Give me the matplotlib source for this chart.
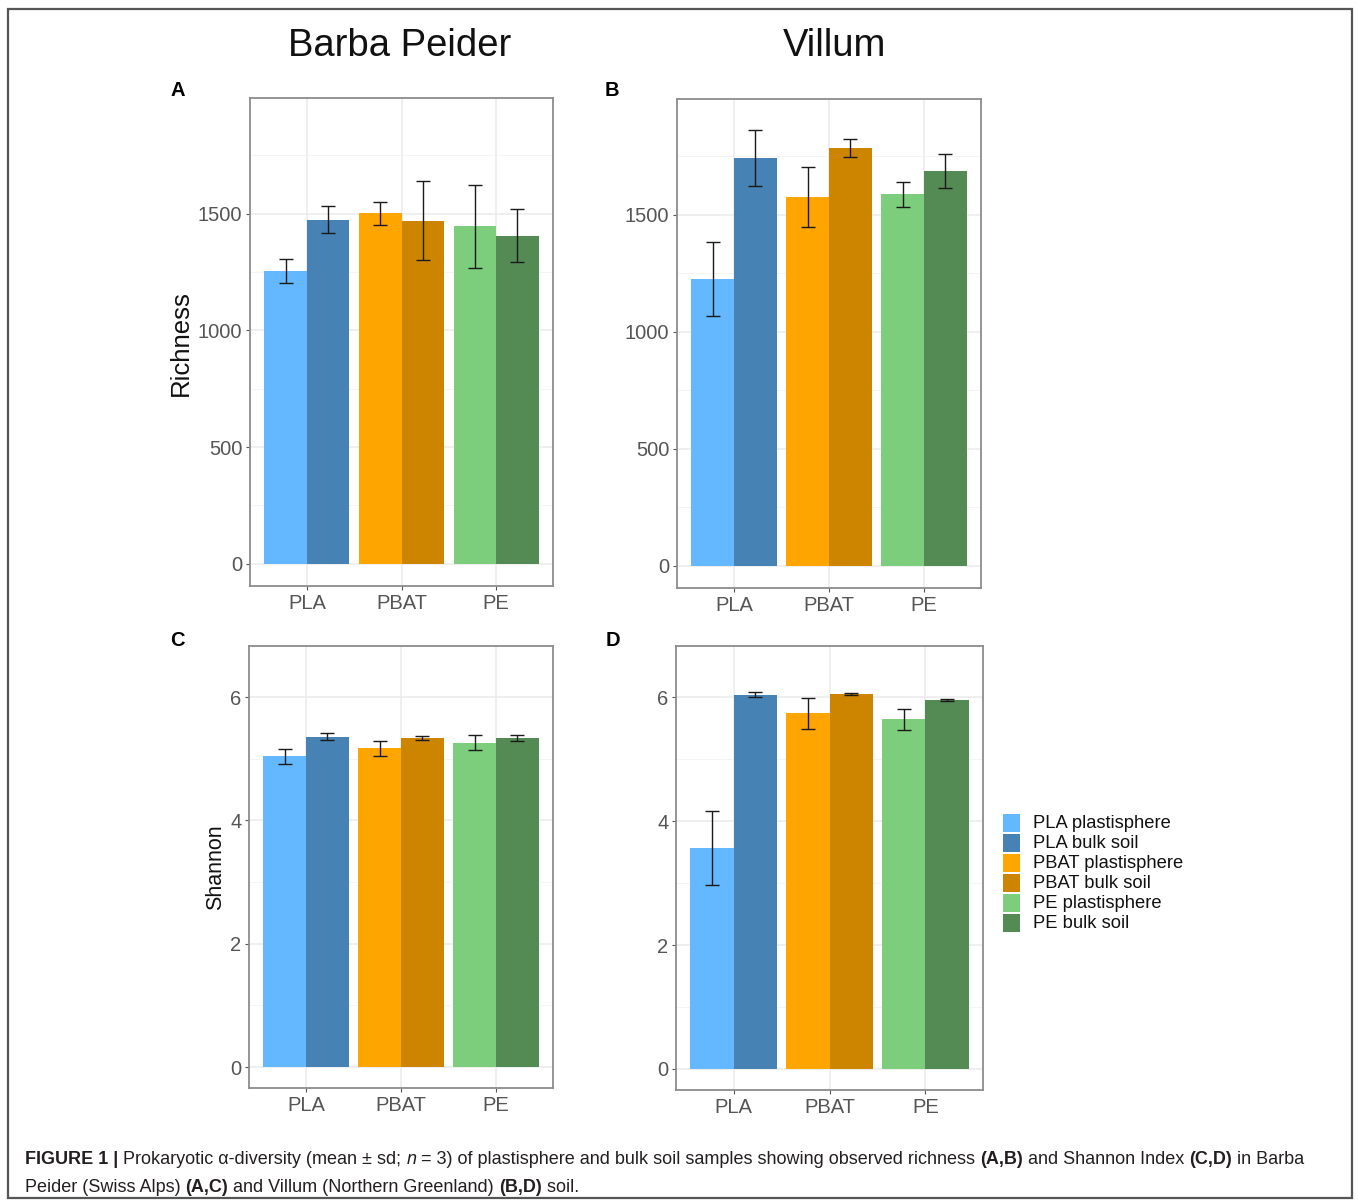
import matplotlib
matplotlib.use("Agg")
import matplotlib.pyplot as plt
from matplotlib.patches import Rectangle
import numpy as np

plt.rcParams['font.family'] = ['Liberation Sans', 'DejaVu Sans']

# datos
plastics = ["PLA", "PBAT", "PE"]
groups = ["PLA plastisphere", "PLA bulk soil", "PBAT plastisphere",
          "PBAT bulk soil", "PE plastisphere", "PE bulk soil"]
colors = ["#63B8FF", "#4682B4", "#FFA500", "#CD8500", "#7CCD7C", "#548B54"]

richness_bp_mean = [1255, 1474, 1501, 1470, 1446, 1406]
richness_bp_sd = [52, 58, 49, 170, 177, 112]
richness_vi_mean = [1226, 1742, 1576, 1785, 1587, 1687]
richness_vi_sd = [158, 120, 127, 40, 54, 72]
shannon_bp_mean = [5.04, 5.36, 5.17, 5.34, 5.26, 5.34]
shannon_bp_sd = [0.12, 0.06, 0.12, 0.03, 0.12, 0.05]
shannon_vi_mean = [3.57, 6.04, 5.74, 6.06, 5.65, 5.96]
shannon_vi_sd = [0.60, 0.04, 0.25, 0.015, 0.17, 0.02]

W, H = 1358, 1201
fig = plt.figure(figsize=(W / 100, H / 100), dpi=100)
fig.patch.set_facecolor("white")


def px_axes(l, t, r, b):
    return fig.add_axes([l / W, 1 - b / H, (r - l) / W, (b - t) / H])


def panel(ax, means, sds, ylim, major, minor):
    x = np.arange(1, len(plastics) + 1)
    for i in range(len(groups)):
        p = i // 2
        off = -0.225 if i % 2 == 0 else 0.225
        ax.bar(x[p] + off, means[i], width=0.45, color=colors[i], zorder=2)
        ax.errorbar(x[p] + off, means[i], yerr=sds[i], fmt="none",
                    ecolor="#1a1a1a", elinewidth=1.0, capsize=4.7,
                    capthick=1.0, zorder=3)
    ax.set_xlim(0.4, 3.6)
    ax.set_ylim(*ylim)
    ax.set_xticks(x)
    ax.set_xticklabels(plastics)
    ax.set_yticks(major)
    ax.set_yticks(minor, minor=True)
    ax.grid(True, which="major", color="#EBEBEB", lw=1.1, zorder=0)
    ax.grid(True, which="minor", axis="y", color="#F2F2F2", lw=0.6, zorder=0)
    ax.set_axisbelow(True)
    ax.tick_params(which="major", length=3, width=0.8, color="#555555",
                   labelsize=14.5, labelcolor="#555555", pad=2.5)
    ax.tick_params(which="minor", length=0)
    for s in ax.spines.values():
        s.set_color("#8C8C8C")
        s.set_linewidth(1.3)


rich_lim = (-95, 1995)
sh_lim = (-0.34, 6.83)

axA = px_axes(250, 98, 553, 586)
panel(axA, richness_bp_mean, richness_bp_sd, rich_lim, [0, 500, 1000, 1500],
      [250, 750, 1250, 1750])
axB = px_axes(677, 99, 981, 588)
panel(axB, richness_vi_mean, richness_vi_sd, rich_lim, [0, 500, 1000, 1500],
      [250, 750, 1250, 1750])
axC = px_axes(249, 646, 553, 1088)
panel(axC, shannon_bp_mean, shannon_bp_sd, sh_lim, [0, 2, 4, 6], [1, 3, 5])
axD = px_axes(676, 646, 983, 1090)
panel(axD, shannon_vi_mean, shannon_vi_sd, sh_lim, [0, 2, 4, 6], [1, 3, 5])

# titulos de columnas
fig.text(400 / W, 1 - 46 / H, "Barba Peider", fontsize=27.5, ha="center",
         va="center", color="#111111")
fig.text(835 / W, 1 - 46 / H, "Villum", fontsize=27.5, ha="center",
         va="center", color="#111111")

# letras de panel
for lab, xx, yy in [("A", 178, 91), ("B", 612, 91), ("C", 177, 640), ("D", 613, 640)]:
    fig.text(xx / W, 1 - yy / H, lab, fontsize=14.5, fontweight="bold",
             ha="center", va="center", color="black")

fig.text(181 / W, 1 - 343 / H, "Richness", fontsize=18.5, rotation=90,
         ha="center", va="center", color="#111111")
fig.text(216 / W, 1 - 867 / H, "Shannon", fontsize=15.5, rotation=90,
         ha="center", va="center", color="#111111")

# leyenda
for i, (g, c) in enumerate(zip(groups, colors)):
    yc = 823 + 20 * i
    fig.add_artist(Rectangle((1003 / W, 1 - (yc + 9) / H), 17 / W, 18 / H,
                             transform=fig.transFigure, facecolor=c,
                             edgecolor="none"))
    fig.text(1033 / W, 1 - yc / H, g, fontsize=13.2, ha="left", va="center",
             color="#111111")

# marco exterior
fig.add_artist(Rectangle((8 / W, 1 - 1198 / H), 1344 / W, 1189 / H,
                         transform=fig.transFigure, facecolor="none",
                         edgecolor="#555555", lw=1.6))

# pie de figura
line1 = [("FIGURE 1 |", "bold", "normal"),
         (" Prokaryotic \u03b1-diversity (mean \u00b1 sd; ", "normal", "normal"),
         ("n", "normal", "italic"),
         (" = 3) of plastisphere and bulk soil samples showing observed richness ",
          "normal", "normal"),
         ("(A,B)", "bold", "normal"),
         (" and Shannon Index ", "normal", "normal"),
         ("(C,D)", "bold", "normal"),
         (" in Barba", "normal", "normal")]
line2 = [("Peider (Swiss Alps) ", "normal", "normal"),
         ("(A,C)", "bold", "normal"),
         (" and Villum (Northern Greenland) ", "normal", "normal"),
         ("(B,D)", "bold", "normal"),
         (" soil.", "normal", "normal")]

renderer = fig.canvas.get_renderer()


def caption_line(pieces, x0, y0, size, draw=True):
    x = x0
    arts = []
    for s, w, st in pieces:
        t = fig.text(x / W, 1 - y0 / H, s, fontsize=size, fontweight=w,
                     style=st, ha="left", va="center", color="#231F20")
        bb = t.get_window_extent(renderer=renderer)
        x += bb.width
        arts.append(t)
    if not draw:
        for t in arts:
            t.remove()
    return x - x0


# ajustar el tamano para que la primera linea ocupe el ancho del original
w14 = caption_line(line1, 25, 1160, 14, draw=False)
cap_size = 14 * 1288 / w14
caption_line(line1, 25, 1160, cap_size)
caption_line(line2, 25, 1187, cap_size)

fig.savefig("out.png", dpi=100)
